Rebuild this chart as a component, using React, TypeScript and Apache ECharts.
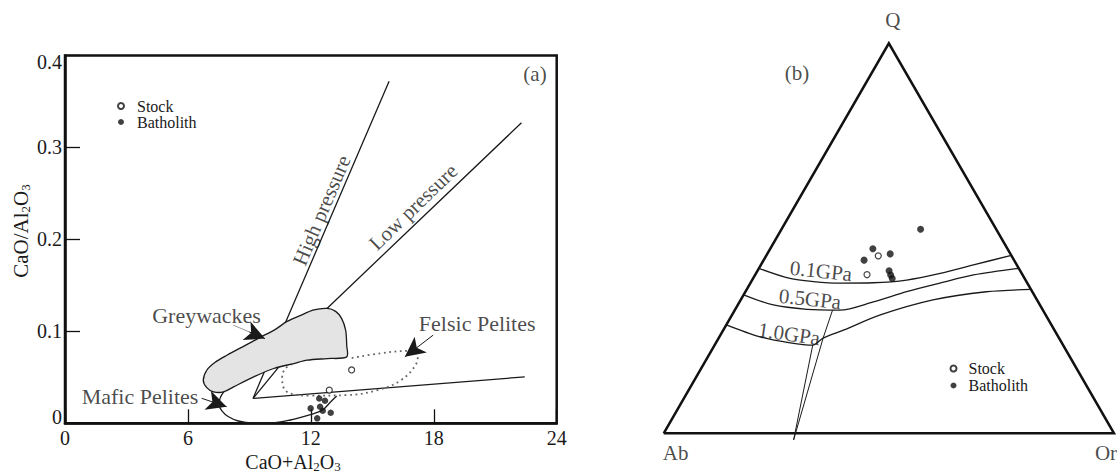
import React, { useEffect, useRef } from 'react';
import * as echarts from 'echarts';

const FONT = '"Liberation Serif", "Times New Roman", Times, serif';
const INK = '#1a1a1a';

// ---------- Panel (a): CaO/Al2O3 vs CaO+Al2O3 ----------
const yTickLabels = ['0', '0.1', '0.2', '0.3', '0.4'];

const stockAX = [13.99, 12.9];
const stockAY = [0.058, 0.036];
const bathAX = [12.41, 12.69, 11.99, 12.45, 12.58, 12.97, 12.31];
const bathAY = [0.027, 0.0245, 0.0163, 0.018, 0.0137, 0.0115, 0.0054];

const highX = [15.82, 9.83, 9.18];
const highY = [0.372, 0.0613, 0.0271];
const lowX = [22.28, 12.8, 10.51, 9.18];
const lowY = [0.3268, 0.1252, 0.0632, 0.0271];
const baseX = [9.18, 22.44];
const baseY = [0.0271, 0.0505];

const maficX = [7.77, 7.57, 7.52, 7.67, 7.96, 8.46, 9.14, 9.93, 11.0, 11.98, 12.57, 12.96, 13.26];
const maficY = [0.035, 0.0274, 0.0198, 0.0133, 0.0074, 0.0025, 0.0003, 0.0003, 0.0036, 0.0095, 0.0144, 0.0231, 0.0296];

const felsicX = [11.33, 10.84, 10.6, 10.84, 11.99, 13.78, 15.25, 16.4, 17.13, 17.22, 16.73, 15.42, 13.86];
const felsicY = [0.0667, 0.0613, 0.0505, 0.0342, 0.0301, 0.0307, 0.0361, 0.0469, 0.0642, 0.074, 0.0787, 0.0762, 0.0704];

const greyX = [6.92, 7.33, 7.9, 8.8, 9.53, 10.27, 10.84, 11.5, 12.15, 12.8, 13.21, 13.5, 13.7, 13.75, 13.75,
  12.8, 11.82, 11.17, 10.19, 9.21, 8.23, 7.74, 7.25, 6.92, 6.75];
const greyY = [0.0577, 0.0664, 0.074, 0.0848, 0.0935, 0.1022, 0.1108, 0.1174, 0.1233, 0.1249, 0.1217, 0.1141, 0.1011, 0.0848, 0.0722,
  0.0704, 0.0686, 0.065, 0.0596, 0.0505, 0.0397, 0.0342, 0.0342, 0.0388, 0.0469];

// ---------- Panel (b): Q-Ab-Or ternary (values in %, Q and Or) ----------
const bathBQ = [52.3, 47.3, 46.0, 44.4, 41.7, 40.6, 39.7];
const bathBOr = [30.9, 22.8, 27.3, 22.3, 29.2, 30.1, 30.9];
const stockBQ = [45.5, 40.7];
const stockBOr = [24.9, 24.8];

const triQ = [0, 0, 100, 0];
const triOr = [0, 100, 0, 0];

const c01Q = [42.3, 39.7, 38.9, 38.5, 38.6, 39.3, 41.0, 43.2, 45.6];
const c01Or = [0, 8.2, 13.8, 19.9, 27.2, 34.3, 40.9, 47.2, 54.4];
const c05Q = [35.5, 32.9, 31.8, 31.6, 33.7, 36.3, 38.5, 40.6, 42.3];
const c05Or = [0, 7.9, 15.9, 23.3, 29.7, 35.8, 42.1, 48.5, 57.7];
const c10Q = [27.8, 24.8, 23.2, 22.6, 24.4, 26.5, 30.3, 34.2, 36.3, 36.9];
const c10Or = [0, 8.8, 16.5, 21.8, 23.2, 26.8, 32.8, 42.7, 53.5, 63.1];

const seg1Q = [31.6, 24.4];
const seg1Or = [21.7, 23.2];
const seg2Q = [22.6, -1.7];
const seg2Or = [21.8, 29.7];
const seg3Q = [24.4, -1.7];
const seg3Or = [23.2, 29.7];

const zip = (xs: number[], ys: number[]) => xs.map((x, i) => [x, ys[i]]);
const H = Math.sqrt(3) / 2;
const tern = (q: number, or: number) => [or / 100 + q / 200, (q / 100) * H];
const ternZip = (qs: number[], ors: number[]) => qs.map((q, i) => tern(q, ors[i]));

const lineBase = (data: number[][], grid: number, extra: any = {}) => ({
  type: 'line',
  xAxisIndex: grid,
  yAxisIndex: grid,
  data,
  symbol: 'none',
  silent: true,
  clip: false,
  z: 2,
  lineStyle: { color: INK, width: 1.3 },
  emphasis: { disabled: true },
  ...extra,
});

const txt = (size: number) => ({ fontFamily: FONT, fontSize: size, color: INK });

export default function App() {
  const ref = useRef<HTMLDivElement>(null);

  useEffect(() => {
    if (!ref.current) return;
    const chart = echarts.init(ref.current, undefined, { renderer: 'svg' });
    const greyPts = zip(greyX, greyY);

    const option: any = {
      animation: false,
      backgroundColor: '#ffffff',
      grid: [
        { left: 65, right: 560.3, top: 55.5, bottom: 50.7, show: true, borderColor: '#111', borderWidth: 2.5, containLabel: false, outerBoundsMode: 'none' },
        { left: 663.7, right: 3, top: 43.3, bottom: 40.7, show: false, containLabel: false, outerBoundsMode: 'none' },
      ],
      xAxis: [
        {
          type: 'value', gridIndex: 0, min: 0, max: 24, interval: 6,
          axisLine: { show: true, onZero: false, lineStyle: { color: '#111', width: 2.5 } },
          axisTick: { show: true, inside: true, length: 14, lineStyle: { color: '#111', width: 1.3 } },
          axisLabel: { margin: 5, ...txt(20) },
          splitLine: { show: false },
        },
        { type: 'value', gridIndex: 1, min: 0, max: 1, show: false },
      ],
      yAxis: [
        {
          type: 'value', gridIndex: 0, min: 0, max: 0.4, interval: 0.1,
          axisLine: { show: true, onZero: false, lineStyle: { color: '#111', width: 2.5 } },
          axisTick: { show: true, inside: true, length: 15, lineStyle: { color: '#111', width: 1.3 } },
          axisLabel: {
            margin: 3,
            ...txt(20),
            formatter: (v: number) => {
              const i = Math.round(v * 10);
              const s = yTickLabels[i];
              if (i === 4) return `{lo|${s}}`;
              if (i === 0) return `{hi|${s}}`;
              return s;
            },
            rich: {
              lo: { ...txt(20), padding: [12, 0, 0, 0] },
              hi: { ...txt(20), padding: [0, 0, 12, 0] },
            },
          },
          splitLine: { show: false },
        },
        { type: 'value', gridIndex: 1, min: 0, max: H, show: false },
      ],
      legend: [
        {
          data: ['Stock', 'Batholith'], orient: 'vertical', left: 117, top: 98,
          itemWidth: 6, itemHeight: 6, itemGap: 0, padding: 0, selectedMode: false,
          textStyle: { ...txt(16), lineHeight: 16, padding: [0, 0, 0, 8] },
        },
        {
          data: ['Stock', 'Batholith'], orient: 'vertical', left: 949.5, top: 360.5,
          itemWidth: 6, itemHeight: 6, itemGap: 1, padding: 0, selectedMode: false,
          textStyle: { ...txt(16), lineHeight: 16, padding: [0, 0, 0, 7] },
        },
      ],
      graphic: [
        {
          type: 'text', x: 21, y: 231, rotation: Math.PI / 2,
          style: {
            text: '{n|CaO/Al}{s|2}{n|O}{s|3}',
            align: 'center', verticalAlign: 'middle',
            rich: {
              n: { ...txt(21), fill: INK, lineHeight: 22 },
              s: { ...txt(13), fill: INK, lineHeight: 13, verticalAlign: 'bottom' },
            },
          },
        },
        {
          type: 'text', x: 293, y: 462,
          style: {
            text: '{n|CaO+Al}{s|2}{n|O}{s|3}',
            align: 'center', verticalAlign: 'middle',
            rich: {
              n: { ...txt(20), fill: INK, lineHeight: 21 },
              s: { ...txt(13), fill: INK, lineHeight: 13, verticalAlign: 'bottom' },
            },
          },
        },
      ],
      series: [
        // ----- panel (a) -----
        lineBase(zip(highX, highY), 0),
        lineBase(zip(lowX, lowY), 0),
        lineBase(zip(baseX, baseY), 0),
        lineBase(zip(maficX, maficY), 0, { smooth: 0.35 }),
        lineBase(zip(felsicX, felsicY), 0, { smooth: 0.4, lineStyle: { color: '#666', width: 1.8, type: [1.8, 3.6] } }),
        {
          type: 'custom', xAxisIndex: 0, yAxisIndex: 0, silent: true, z: 3,
          data: greyPts,
          renderItem: (params: any, api: any) => {
            if (params.dataIndex !== 0) return null;
            const pts = greyPts.map((p) => api.coord(p));
            return {
              type: 'polygon',
              shape: { points: pts, smooth: 0.3 },
              style: { fill: '#e4e4e4', stroke: INK, lineWidth: 1.3 },
            };
          },
        },
        {
          name: 'Stock', type: 'scatter', xAxisIndex: 0, yAxisIndex: 0, z: 5,
          data: zip(stockAX, stockAY), symbol: 'circle', symbolSize: 6,
          itemStyle: { color: '#ffffff', borderColor: '#111', borderWidth: 1.2 },
          emphasis: { disabled: true },
        },
        {
          name: 'Batholith', type: 'scatter', xAxisIndex: 0, yAxisIndex: 0, z: 5,
          data: zip(bathAX, bathAY), symbol: 'circle', symbolSize: 6.5,
          itemStyle: { color: '#111' },
          emphasis: { disabled: true },
        },
        {
          type: 'scatter', xAxisIndex: 0, yAxisIndex: 0, symbolSize: 0, silent: true, z: 6,
          label: { show: true, position: 'inside', ...txt(22) },
          data: [
            { value: [6.91, 0.1176], label: { formatter: 'Greywackes' } },
            { value: [3.66, 0.0289], label: { formatter: 'Mafic Pelites' } },
            { value: [20.12, 0.1086], label: { formatter: 'Felsic Pelites' } },
            { value: [12.53, 0.2316], label: { formatter: 'High pressure', rotate: 67, fontSize: 21 } },
            { value: [17.0, 0.2352], label: { formatter: 'Low pressure', rotate: 44, fontSize: 21 } },
            { value: [22.94, 0.38], label: { formatter: '(a)', fontSize: 21 } },
          ],
          markLine: {
            silent: true,
            symbol: ['none', 'arrow'],
            symbolSize: [15, 20],
            label: { show: false },
            lineStyle: { color: INK, width: 1, type: 'solid' },
            emphasis: { disabled: true },
            data: [
              [
                { coord: [8.21, 0.1068], symbol: 'none', lineStyle: { color: '#999' } },
                { coord: [9.3, 0.0965], symbol: 'none', lineStyle: { color: '#999' } },
              ],
              [{ coord: [9.0, 0.0993] }, { coord: [9.76, 0.0921] }],
              [{ coord: [6.67, 0.0272] }, { coord: [7.89, 0.018] }],
              [{ coord: [17.97, 0.0959] }, { coord: [16.59, 0.0723] }],
            ],
          },
        },
        // ----- panel (b) -----
        lineBase(ternZip(triQ, triOr), 1, { lineStyle: { color: '#111', width: 2.5, join: 'miter' } }),
        lineBase(ternZip(c01Q, c01Or), 1, { smooth: 0.3 }),
        lineBase(ternZip(c05Q, c05Or), 1, { smooth: 0.3 }),
        lineBase(ternZip(c10Q, c10Or), 1, { smooth: 0.3 }),
        lineBase(ternZip(seg1Q, seg1Or), 1, { lineStyle: { color: INK, width: 1 } }),
        lineBase(ternZip(seg2Q, seg2Or), 1, { lineStyle: { color: INK, width: 1 } }),
        lineBase(ternZip(seg3Q, seg3Or), 1, { lineStyle: { color: INK, width: 1 } }),
        {
          name: 'Stock', type: 'scatter', xAxisIndex: 1, yAxisIndex: 1, z: 5,
          data: ternZip(stockBQ, stockBOr), symbol: 'circle', symbolSize: 6,
          itemStyle: { color: '#ffffff', borderColor: '#111', borderWidth: 1.2 },
          emphasis: { disabled: true },
        },
        {
          name: 'Batholith', type: 'scatter', xAxisIndex: 1, yAxisIndex: 1, z: 5,
          data: ternZip(bathBQ, bathBOr), symbol: 'circle', symbolSize: 7,
          itemStyle: { color: '#111' },
          emphasis: { disabled: true },
        },
        {
          type: 'scatter', xAxisIndex: 1, yAxisIndex: 1, symbolSize: 0, silent: true, z: 6,
          label: { show: true, position: 'inside', ...txt(21) },
          data: [
            { value: tern(100, 0), label: { formatter: 'Q', position: 'top', distance: 5, offset: [4, -8] } },
            { value: tern(0, 0), label: { formatter: 'Ab', position: 'bottom', distance: 5, offset: [12, 4] } },
            { value: tern(0, 100), label: { formatter: 'Or', position: 'bottom', distance: 5, offset: [-8, 4] } },
            { value: [0.3493, 0.3604], label: { formatter: '0.1GPa', rotate: -6 } },
            { value: [0.3249, 0.2982], label: { formatter: '0.5GPa', rotate: -6 } },
            { value: [0.2784, 0.2205], label: { formatter: '1.0GPa', rotate: -8 } },
            { value: [0.296, 0.8], label: { formatter: '(b)' } },
          ],
        },
      ],
    };

    chart.setOption(option);
    return () => chart.dispose();
  }, []);

  return (
    <div
      ref={ref}
      style={{ position: 'fixed', left: 0, top: 0, width: 1117, height: 474, background: '#fff' }}
    />
  );
}
